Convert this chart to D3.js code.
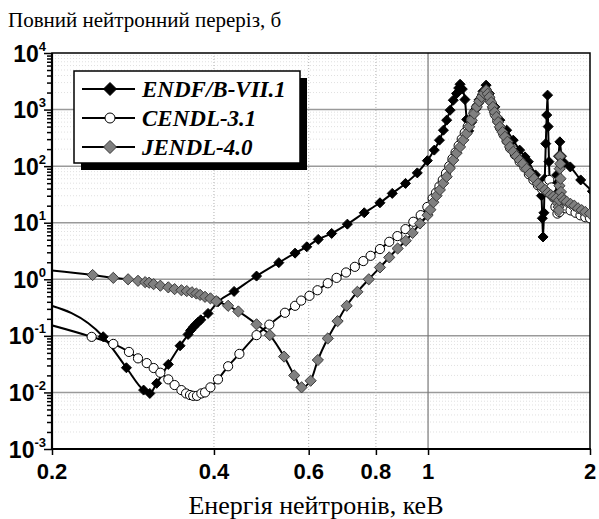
<!DOCTYPE html>
<html>
<head>
<meta charset="utf-8">
<script src="https://cdn.jsdelivr.net/npm/d3@7"></script>
<style>
  html, body { margin: 0; padding: 0; background: #fff; }
  svg { display: block; }
</style>
</head>
<body>
<svg id="chart" width="599" height="519"></svg>
<script>
// Total neutron cross-section (barn) vs neutron energy (keV), three evaluated libraries.
const seriesNames = ["ENDF/B-VII.1", "CENDL-3.1", "JENDL-4.0"];

// [energy keV, cross-section b]
const endfData = [
  [0.19, 0.39], [0.249, 0.0965], [0.275, 0.0273], [0.296, 0.0110], [0.304, 0.0096],
  [0.313, 0.0145], [0.329, 0.0313], [0.346, 0.0668], [0.358, 0.106], [0.362, 0.125],
  [0.366, 0.142], [0.370, 0.158], [0.374, 0.175], [0.378, 0.192], [0.390, 0.249],
  [0.407, 0.40], [0.436, 0.61], [0.480, 1.14], [0.528, 1.97], [0.566, 2.9],
  [0.595, 3.75], [0.625, 5.07], [0.662, 6.47], [0.708, 9.44], [0.761, 15.0],
  [0.814, 22.5], [0.858, 33], [0.908, 49.5], [0.955, 76], [0.997, 125],
  [1.027, 192], [1.050, 288], [1.068, 432], [1.083, 650], [1.099, 975],
  [1.114, 1464], [1.130, 1923], [1.140, 2400], [1.147, 2800], [1.158, 2300],
  [1.171, 1500], [1.180, 670], [1.190, 420], [1.205, 600], [1.225, 1000],
  [1.245, 1500], [1.265, 2100], [1.282, 2700], [1.300, 1923], [1.331, 1117],
  [1.360, 650], [1.400, 432], [1.440, 288], [1.480, 192], [1.514, 146],
  [1.536, 120], [1.584, 70], [1.619, 45], [1.625, 30], [1.631, 12],
  [1.636, 5.6], [1.642, 15], [1.648, 60], [1.655, 250], [1.662, 800],
  [1.668, 1800], [1.672, 500], [1.678, 120], [1.685, 50], [1.706, 38],
  [1.720, 45], [1.735, 70], [1.748, 150], [1.758, 269], [1.770, 150],
  [1.790, 115], [1.838, 97], [1.922, 57], [2.02, 36]
];

const cendlData = [
  [0.19, 0.175], [0.237, 0.096], [0.260, 0.072], [0.278, 0.052], [0.289, 0.040],
  [0.300, 0.033], [0.309, 0.027], [0.318, 0.0223], [0.329, 0.017], [0.338, 0.0135],
  [0.348, 0.011], [0.355, 0.0096], [0.361, 0.0090], [0.366, 0.0087], [0.372, 0.0087],
  [0.379, 0.0096], [0.385, 0.0100], [0.394, 0.0123], [0.407, 0.017], [0.425, 0.029],
  [0.446, 0.048], [0.480, 0.103], [0.507, 0.158], [0.542, 0.256], [0.566, 0.34],
  [0.581, 0.42], [0.602, 0.51], [0.623, 0.64], [0.651, 0.85], [0.676, 1.06],
  [0.704, 1.32], [0.731, 1.66], [0.758, 2.1], [0.782, 2.6], [0.814, 3.42],
  [0.847, 4.6], [0.877, 5.8], [0.908, 7.7], [0.939, 10.4], [0.969, 13.6],
  [0.997, 19], [1.02, 27], [1.035, 34], [1.05, 44], [1.065, 57],
  [1.08, 75], [1.095, 100], [1.11, 135], [1.125, 175], [1.14, 230],
  [1.155, 300], [1.17, 390], [1.185, 500], [1.20, 650], [1.215, 860],
  [1.23, 1100], [1.245, 1400], [1.26, 1750], [1.275, 2050], [1.285, 2150],
  [1.295, 1750], [1.305, 1450], [1.318, 1080], [1.33, 840], [1.345, 640],
  [1.36, 480], [1.38, 370], [1.40, 280], [1.42, 210], [1.45, 160],
  [1.48, 120], [1.51, 95], [1.54, 72], [1.57, 57], [1.60, 46],
  [1.63, 39], [1.65, 41], [1.665, 50], [1.68, 57], [1.695, 42],
  [1.71, 28], [1.725, 19], [1.74, 14.5], [1.755, 15.5], [1.775, 19],
  [1.80, 18], [1.84, 16.5], [1.88, 15], [1.92, 13.5], [1.96, 12.5],
  [2.0, 12]
];

const jendlData = [
  [0.19, 1.5], [0.238, 1.19], [0.260, 1.06], [0.277, 1.0], [0.289, 0.94],
  [0.298, 0.89], [0.303, 0.87], [0.309, 0.82], [0.318, 0.77], [0.329, 0.72],
  [0.338, 0.67], [0.348, 0.64], [0.356, 0.62], [0.364, 0.59], [0.371, 0.56],
  [0.377, 0.53], [0.385, 0.49], [0.394, 0.46], [0.404, 0.41], [0.425, 0.34],
  [0.444, 0.27], [0.480, 0.16], [0.508, 0.103], [0.540, 0.043], [0.564, 0.020],
  [0.582, 0.0123], [0.605, 0.0161], [0.624, 0.0374], [0.651, 0.090], [0.679, 0.182],
  [0.706, 0.34], [0.739, 0.60], [0.776, 1.0], [0.814, 1.62], [0.847, 2.44],
  [0.878, 3.5], [0.909, 4.8], [0.936, 6.6], [0.966, 9.7], [0.998, 13.6],
  [1.01, 17], [1.023, 23], [1.037, 30], [1.052, 38], [1.067, 50],
  [1.083, 65], [1.098, 92], [1.114, 128], [1.13, 170], [1.147, 219],
  [1.163, 290], [1.18, 378], [1.193, 500], [1.206, 650], [1.219, 850],
  [1.232, 1117], [1.245, 1400], [1.258, 1675], [1.27, 1950], [1.282, 2200],
  [1.291, 1900], [1.30, 1656], [1.31, 1350], [1.32, 1117], [1.33, 900],
  [1.34, 743], [1.35, 600], [1.36, 494], [1.375, 400], [1.39, 330],
  [1.405, 270], [1.42, 219], [1.44, 180], [1.46, 150], [1.48, 128],
  [1.50, 110], [1.525, 90], [1.547, 74], [1.575, 60], [1.60, 49],
  [1.625, 43], [1.65, 38], [1.67, 34], [1.69, 31], [1.71, 29],
  [1.73, 27], [1.742, 22], [1.748, 19], [1.751, 16.7], [1.753, 25],
  [1.755, 45], [1.757, 90], [1.759, 150], [1.761, 110], [1.763, 60],
  [1.766, 35], [1.775, 28], [1.79, 25], [1.81, 23.5], [1.84, 21.5],
  [1.87, 20], [1.90, 18], [1.93, 16.7], [1.96, 15.5], [2.0, 14.5]
];

const xTicks = [0.2, 0.4, 0.6, 0.8, 1, 2];
const xTickLabels = ["0.2", "0.4", "0.6", "0.8", "1", "2"];
const yExponents = [-3, -2, -1, 0, 1, 2, 3, 4];
const xDottedGrid = [0.4, 0.6, 0.8];
const xSolidGrid = [1];

const titleText = "Повний нейтронний переріз, б";
const xTitleText = "Енергія нейтронів, кеВ";

// ---- layout ----
const svg = d3.select("#chart");
const plotLeft = 52, plotRight = 590, plotTop = 53, plotBottom = 449;

const x = d3.scaleLog().domain([0.2, 2]).range([plotLeft, plotRight]);
const y = d3.scaleLog().domain([1e-3, 1e4]).range([plotBottom, plotTop]);

const sans = "'Liberation Sans', Arial, sans-serif";
const serif = "'Liberation Serif', 'Times New Roman', serif";

// minor horizontal grid
const minorY = [];
for (let e = -3; e < 4; e++) for (let k = 2; k <= 9; k++) minorY.push(k * Math.pow(10, e));
const majorY = yExponents.map(e => Math.pow(10, e));

const grid = svg.append("g");
grid.selectAll("line.minor").data(minorY).join("line")
  .attr("class", "minor")
  .attr("x1", plotLeft).attr("x2", plotRight)
  .attr("y1", d => y(d)).attr("y2", d => y(d))
  .attr("stroke", "#e0e0e0").attr("stroke-width", 1).attr("stroke-dasharray", "1,2");
grid.selectAll("line.major").data(majorY.slice(1, -1)).join("line")
  .attr("class", "major")
  .attr("x1", plotLeft).attr("x2", plotRight)
  .attr("y1", d => y(d)).attr("y2", d => y(d))
  .attr("stroke", "#9a9a9a").attr("stroke-width", 1.5);
grid.selectAll("line.vdot").data(xDottedGrid).join("line")
  .attr("class", "vdot")
  .attr("x1", d => x(d)).attr("x2", d => x(d))
  .attr("y1", plotTop).attr("y2", plotBottom)
  .attr("stroke", "#b0b0b0").attr("stroke-width", 1).attr("stroke-dasharray", "1,2");
grid.selectAll("line.vsolid").data(xSolidGrid).join("line")
  .attr("class", "vsolid")
  .attr("x1", d => x(d)).attr("x2", d => x(d))
  .attr("y1", plotTop).attr("y2", plotBottom)
  .attr("stroke", "#777").attr("stroke-width", 1.2);

// axes
const yMinorAxis = d3.axisLeft(y).tickValues(minorY).tickSize(5).tickFormat("").tickSizeOuter(0);
const yMajorAxis = d3.axisLeft(y).tickValues(majorY).tickSize(8).tickFormat("").tickSizeOuter(0);
const xAxis = d3.axisBottom(x).tickValues(xTicks).tickSize(6).tickFormat("").tickSizeOuter(0);

function styleAxis(g) {
  g.select(".domain").remove();
  g.selectAll(".tick line").attr("stroke", "#000").attr("stroke-width", 1.5);
}
svg.append("g").attr("transform", `translate(${plotLeft},0)`).call(yMinorAxis).call(styleAxis);
svg.append("g").attr("transform", `translate(${plotLeft},0)`).call(yMajorAxis).call(styleAxis);
svg.append("g").attr("transform", `translate(0,${plotBottom})`).call(xAxis).call(styleAxis);

// plot frame
svg.append("rect").attr("x", plotLeft).attr("y", plotTop)
  .attr("width", plotRight - plotLeft).attr("height", plotBottom - plotTop)
  .attr("fill", "none").attr("stroke", "#000").attr("stroke-width", 1.5);
svg.append("line").attr("x1", plotLeft).attr("x2", plotLeft).attr("y1", plotTop).attr("y2", plotBottom + 1)
  .attr("stroke", "#000").attr("stroke-width", 2.2);
svg.append("line").attr("x1", plotLeft - 1).attr("x2", plotRight + 1).attr("y1", plotBottom).attr("y2", plotBottom)
  .attr("stroke", "#000").attr("stroke-width", 2.2);

// y tick labels 10^n
const yl = svg.append("g");
yExponents.forEach(e => {
  const t = yl.append("text")
    .attr("x", 46).attr("y", y(Math.pow(10, e)) + 8.5)
    .attr("text-anchor", "end")
    .attr("font-family", sans).attr("font-weight", "bold").attr("font-size", 23)
    .attr("fill", "#000");
  t.append("tspan").text("10");
  t.append("tspan").attr("font-size", 13).attr("dy", -11).text(String(e));
});

// x tick labels
svg.append("g").selectAll("text").data(xTicks).join("text")
  .attr("x", d => x(d)).attr("y", 479)
  .attr("text-anchor", "middle")
  .attr("font-family", sans).attr("font-weight", "bold").attr("font-size", 22)
  .text((d, i) => xTickLabels[i]);

// titles
svg.append("text").attr("x", 8).attr("y", 27)
  .attr("font-family", serif).attr("font-size", 21).text(titleText);
svg.append("text").attr("x", 316).attr("y", 514).attr("text-anchor", "middle")
  .attr("font-family", serif).attr("font-size", 26).text(xTitleText);

// series
svg.append("clipPath").attr("id", "plotClip").append("rect")
  .attr("x", plotLeft).attr("y", plotTop).attr("width", plotRight - plotLeft).attr("height", plotBottom - plotTop);
const plot = svg.append("g").attr("clip-path", "url(#plotClip)");

const line = d3.line().x(d => x(d[0])).y(d => y(d[1])).curve(d3.curveMonotoneX);

const diamond = r => `M0,${-r}L${r},0L0,${r}L${-r},0Z`;

const styles = [
  { data: endfData, shape: "diamond", r: 5, fill: "#000", stroke: "#000" },
  { data: cendlData, shape: "circle", r: 4.6, fill: "#fff", stroke: "#000" },
  { data: jendlData, shape: "diamond", r: 5.6, fill: "#808080", stroke: "#3a3a3a" }
];

function drawMarker(g, s) {
  if (s.shape === "circle") {
    g.append("circle").attr("r", s.r).attr("fill", s.fill).attr("stroke", s.stroke).attr("stroke-width", 1);
  } else {
    g.append("path").attr("d", diamond(s.r)).attr("fill", s.fill).attr("stroke", s.stroke).attr("stroke-width", 1);
  }
}

styles.forEach(s => {
  const g = plot.append("g");
  g.append("path").datum(s.data).attr("d", line)
    .attr("fill", "none").attr("stroke", "#000").attr("stroke-width", 2);
  s.data.forEach(d => {
    const m = g.append("g").attr("transform", `translate(${x(d[0])},${y(d[1])})`);
    drawMarker(m, s);
  });
});

// legend
const lg = svg.append("g");
lg.append("rect").attr("x", 81).attr("y", 78).attr("width", 226).attr("height", 92).attr("fill", "#000");
lg.append("rect").attr("x", 74).attr("y", 71).attr("width", 226).attr("height", 92)
  .attr("fill", "#fff").attr("stroke", "#000").attr("stroke-width", 1.5);
const legendY = [89, 118, 147];
styles.forEach((s, i) => {
  const yy = legendY[i];
  lg.append("line").attr("x1", 82).attr("x2", 135).attr("y1", yy).attr("y2", yy)
    .attr("stroke", "#000").attr("stroke-width", 2);
  const m = lg.append("g").attr("transform", `translate(110,${yy})`);
  drawMarker(m, { ...s, r: s.shape === "circle" ? 5 : 6.5 });
  lg.append("text").attr("x", 142).attr("y", yy + 8)
    .attr("font-family", serif).attr("font-weight", "bold").attr("font-style", "italic")
    .attr("font-size", 23).text(seriesNames[i]);
});
</script>
</body>
</html>
